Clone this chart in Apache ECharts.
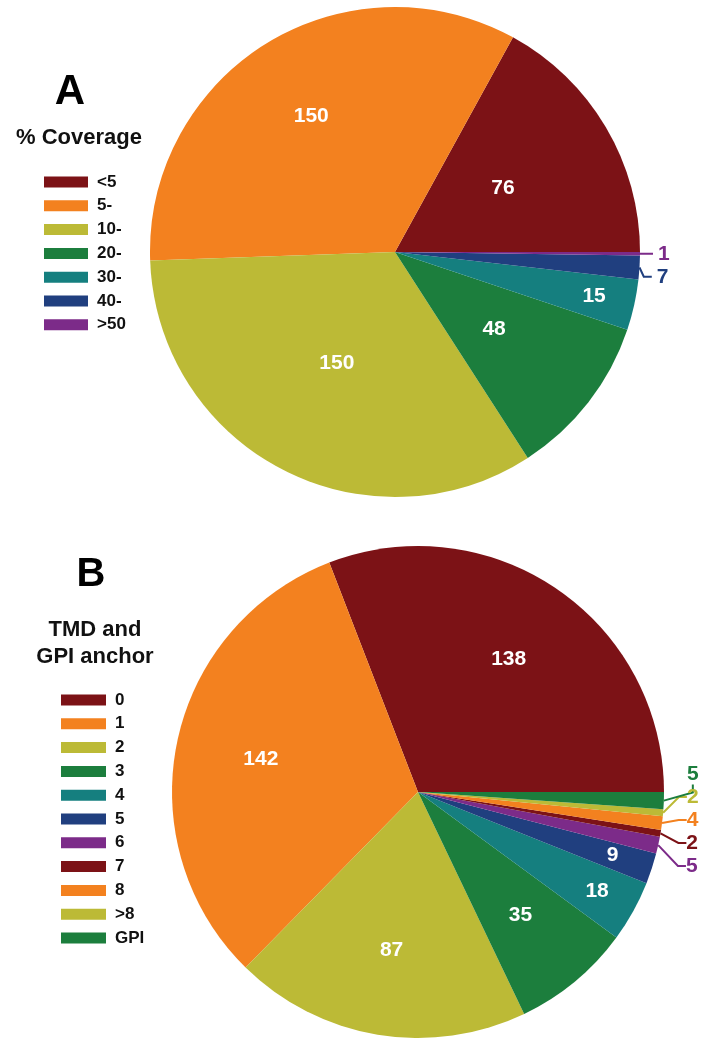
<!DOCTYPE html>
<html>
<head>
<meta charset="utf-8">
<script src="https://cdn.jsdelivr.net/npm/echarts@6/dist/echarts.min.js"></script>
<style>
  html, body { margin: 0; padding: 0; background: #ffffff; }
  #chart { width: 709px; height: 1050px; }
</style>
</head>
<body>
<div id="chart"></div>
<script>
// ---- Data ----
const coverageCategories = ['<5', '5-', '10-', '20-', '30-', '40-', '>50'];
const coverageValues = [76, 150, 150, 48, 15, 7, 1];

const tmdCategories = ['0', '1', '2', '3', '4', '5', '6', '7', '8', '>8', 'GPI'];
const tmdValues = [138, 142, 87, 35, 18, 9, 5, 2, 4, 2, 5];

// ---- Styles ----
const coverageColors = ['#7C1216', '#F3811F', '#BCBA36', '#1C7E3D', '#157F7F', '#203F7F', '#7C2B89'];
const tmdColors = ['#7C1216', '#F3811F', '#BCBA36', '#1C7E3D', '#157F7F', '#203F7F', '#7C2B89', '#7C1216', '#F3811F', '#BCBA36', '#1C7E3D'];
// where each slice's value label goes: inner rings or outside
const coverageLabelPlace = ['mid', 'wide', 'mid', 'mid', 'edge', 'out', 'out'];
const tmdLabelPlace = ['wide', 'wide', 'wide', 'wide', 'edge', 'edge', 'out', 'out', 'out', 'out', 'out'];
const ringFactor = { mid: 1.0, wide: 1.28, edge: 1.64 };

const FONT = '"Liberation Sans", Arial, sans-serif';

function buildPie(id, center, radius, cats, vals, colors, places, outsideShift) {
  const series = [];
  const main = {
    type: 'pie',
    id: id + '-main',
    center: center,
    radius: [0, radius],
    startAngle: 0,
    clockwise: false,
    avoidLabelOverlap: true,
    animation: false,
    label: { show: false },
    labelLine: { show: false },
    emphasis: { disabled: true },
    data: cats.map((c, i) => {
      const out = places[i] === 'out';
      return {
        name: c,
        value: vals[i],
        itemStyle: { color: colors[i], borderWidth: 0 },
        label: {
          show: out,
          position: 'outside',
          formatter: '{c}',
          color: colors[i],
          fontFamily: FONT,
          fontWeight: 'bold',
          fontSize: 21,
          lineHeight: 21,
          overflow: 'none',
          padding: 0
        },
        labelLine: {
          show: out,
          length: 10,
          length2: 8,
          lineStyle: { color: colors[i], width: 2 }
        }
      };
    })
  };
  if (outsideShift) {
    // lift the stacked outside labels; the library then redraws their guide lines
    main.labelLayout = function (p) {
      return {
        x: p.labelRect.x + outsideShift[0],
        y: p.labelRect.y + p.labelRect.height / 2 + outsideShift[1]
      };
    };
  }
  series.push(main);
  Object.keys(ringFactor).forEach(ring => {
    if (!places.includes(ring)) return;
    series.push({
      type: 'pie',
      id: id + '-' + ring,
      center: center,
      radius: [0, radius * ringFactor[ring]],
      startAngle: 0,
      clockwise: false,
      silent: true,
      animation: false,
      avoidLabelOverlap: false,
      emphasis: { disabled: true },
      itemStyle: { color: 'rgba(0,0,0,0)', borderWidth: 0 },
      labelLine: { show: false },
      data: cats.map((c, i) => ({
        name: c,
        value: vals[i],
        label: {
          show: places[i] === ring,
          position: 'inside',
          formatter: '{c}',
          color: '#ffffff',
          fontFamily: FONT,
          fontWeight: 'bold',
          fontSize: 21
        }
      }))
    });
  });
  return series;
}

const series = [].concat(
  buildPie('A', [395, 252], 245, coverageCategories, coverageValues, coverageColors, coverageLabelPlace, null),
  buildPie('B', [418, 792], 246, tmdCategories, tmdValues, tmdColors, tmdLabelPlace, [5, -27])
);

const legendText = {
  fontFamily: FONT,
  fontWeight: 'bold',
  fontSize: 17,
  lineHeight: 18,
  color: '#111111',
  padding: [0, 0, 0, 4]
};

const option = {
  backgroundColor: '#ffffff',
  animation: false,
  legend: [
    {
      data: coverageCategories,
      orient: 'vertical',
      left: 44,
      top: 173,
      padding: 0,
      icon: 'rect',
      itemWidth: 44,
      itemHeight: 11,
      itemGap: 5.8,
      selectedMode: false,
      textStyle: legendText
    },
    {
      data: tmdCategories,
      orient: 'vertical',
      left: 61,
      top: 691,
      padding: 0,
      icon: 'rect',
      itemWidth: 45,
      itemHeight: 11,
      itemGap: 5.8,
      selectedMode: false,
      textStyle: legendText
    }
  ],
  graphic: [
    { type: 'text', x: 70, y: 92, style: { text: 'A', font: 'bold 42px ' + FONT, fill: '#000', align: 'center', verticalAlign: 'middle' } },
    { type: 'text', x: 79, y: 138, style: { text: '% Coverage', font: 'bold 22px ' + FONT, fill: '#111', align: 'center', verticalAlign: 'middle' } },
    { type: 'text', x: 91, y: 575, style: { text: 'B', font: 'bold 40px ' + FONT, fill: '#000', align: 'center', verticalAlign: 'middle' } },
    { type: 'text', x: 95, y: 630, style: { text: 'TMD and', font: 'bold 22px ' + FONT, fill: '#111', align: 'center', verticalAlign: 'middle' } },
    { type: 'text', x: 95, y: 657, style: { text: 'GPI anchor', font: 'bold 22px ' + FONT, fill: '#111', align: 'center', verticalAlign: 'middle' } }
  ],
  series: series
};

const chart = echarts.init(document.getElementById('chart'), null, { renderer: 'canvas' });
chart.setOption(option);
</script>
</body>
</html>
